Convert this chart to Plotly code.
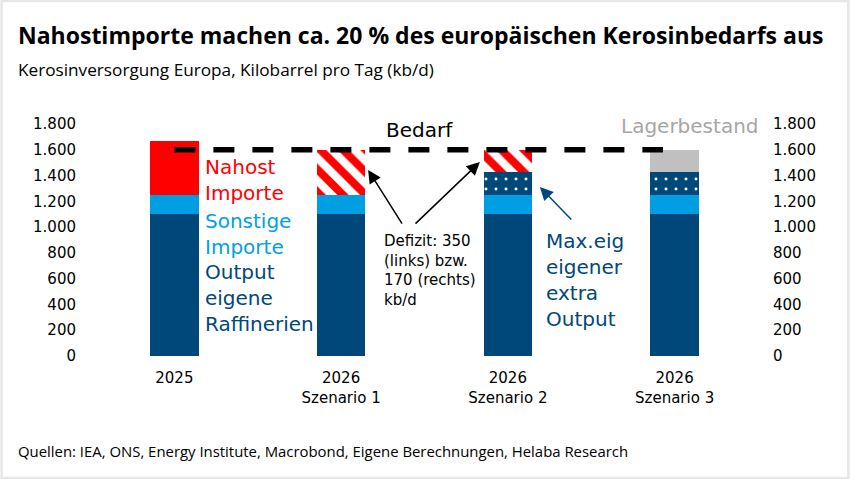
import plotly.graph_objects as go

# ---------------- data ----------------
categories = ["2025", "2026<br>Szenario 1", "2026<br>Szenario 2", "2026<br>Szenario 3"]
output_eigene = [1100, 1100, 1100, 1100]
sonstige_importe = [150, 150, 150, 150]
nahost_importe = [420, 0, 0, 0]
extra_output = [0, 0, 180, 180]
defizit = [0, 350, 170, 0]
lagerbestand = [0, 0, 0, 170]
bedarf = 1600
y_ticks = [0, 200, 400, 600, 800, 1000, 1200, 1400, 1600, 1800]

# ---------------- style ----------------
DARK = "#00477A"
LIGHT = "#009FE3"
RED = "#FF0000"
GRAY = "#C0C0C0"
GRAYTXT = "#A6A6A6"
TXTFONT = "DejaVu Sans"
HEADFONT = "Open Sans"

W, H = 850, 479
ML, MR, MT, MB = 90.5, 91.5, 124, 123
PW, PH = W - ML - MR, H - MT - MB


def px(xp):
    return (xp - ML) / PW


def py(yp):
    return (H - MB - yp) / PH


xs = list(range(len(categories)))
bw = 0.29

fig = go.Figure()


def bar(vals, color, name, pattern=None):
    kw = dict(x=xs, y=vals, name=name, width=bw,
              marker=dict(color=color, line=dict(width=0)),
              hoverinfo="skip", showlegend=False)
    if pattern:
        kw["marker"]["pattern"] = pattern
    fig.add_trace(go.Bar(**kw))


bar(output_eigene, DARK, "Output eigene Raffinerien")
bar(sonstige_importe, LIGHT, "Sonstige Importe")
bar(nahost_importe, RED, "Nahost Importe")
bar(extra_output, DARK, "Max. eigener extra Output",
    dict(shape=".", fgcolor="white", bgcolor=DARK, size=10, solidity=0.07, fgopacity=1))
bar(defizit, "white", "Defizit",
    dict(shape="\\", fgcolor=RED, bgcolor="white", size=16, solidity=0.5, fgopacity=1))
bar(lagerbestand, GRAY, "Lagerbestand")

# invisible trace for the right axis
fig.add_trace(go.Scatter(x=[xs[0]], y=[0], yaxis="y2", mode="markers",
                         marker=dict(opacity=0), showlegend=False, hoverinfo="skip"))

# Bedarf dashed line
fig.add_shape(type="line", xref="x", yref="y", x0=xs[0], x1=xs[-1] - 0.07,
              y0=bedarf, y1=bedarf, layer="above",
              line=dict(color="black", width=5.5, dash="21px,18px"))

ann = []


def label(x, y, text, color, size=20, xanchor="left"):
    ann.append(dict(x=x, y=y, xref="x", yref="y", text=text, showarrow=False,
                    xanchor=xanchor, yanchor="middle", align="left",
                    font=dict(family=TXTFONT, size=size, color=color)))


label(0.17, 1369, "Nahost<br>Importe", RED)
label(0.17, 950, "Sonstige<br>Importe", LIGHT)
label(0.17, 450, "Output<br>eigene<br>Raffinerien", DARK)
label(2.215, 586, "Max.eig<br>eigener<br>extra<br>Output", DARK)
label(1.245, 667, "Defizit: 350<br>(links) bzw.<br>170 (rechts)<br>kb/d", "black", size=15)
label(1.467, 1753, "Bedarf", "black", xanchor="center")
label(3.09, 1784, "Lagerbestand", GRAYTXT, xanchor="center")


def arrow(x, y, ax, ay, color):
    ann.append(dict(x=x, y=y, ax=ax, ay=ay, xref="x", yref="y", axref="x", ayref="y",
                    text="", showarrow=True, arrowhead=2, arrowsize=1.75,
                    arrowwidth=1.5, arrowcolor=color, standoff=0, startstandoff=0))


arrow(1.162, 1443, 1.371, 1016, "black")
arrow(1.832, 1505, 1.437, 1016, "black")
arrow(2.192, 1311, 2.389, 1047, DARK)

# title, subtitle, footer
ann.append(dict(x=px(15), y=py(35), xref="paper", yref="paper", xanchor="left", yanchor="middle",
                text="<b>Nahostimporte machen ca. 20 % des europäischen Kerosinbedarfs aus</b>",
                showarrow=False, font=dict(family=HEADFONT, size=23, color="black")))
ann.append(dict(x=px(15), y=py(69), xref="paper", yref="paper", xanchor="left", yanchor="middle",
                text="Kerosinversorgung Europa, Kilobarrel pro Tag (kb/d)",
                showarrow=False, font=dict(family=HEADFONT, size=17.2, color="black")))
ann.append(dict(x=px(15), y=py(451), xref="paper", yref="paper", xanchor="left", yanchor="middle",
                text="Quellen: IEA, ONS, Energy Institute, Macrobond, Eigene Berechnungen, Helaba Research",
                showarrow=False, font=dict(family=HEADFONT, size=14.9, color="black")))

# light frame
fig.add_shape(type="rect", xref="paper", yref="paper",
              x0=px(1), x1=px(W - 1), y0=py(H - 1), y1=py(1),
              line=dict(color="#E6E6E6", width=2.5), layer="above")

axis_font = dict(family=TXTFONT, size=15, color="black")
fig.update_layout(
    width=W, height=H,
    margin=dict(l=ML, r=MR, t=MT, b=MB, pad=0),
    paper_bgcolor="white", plot_bgcolor="white",
    barmode="stack", bargap=0,
    separators=",.",
    annotations=ann,
    xaxis=dict(range=[-0.5, 3.5], tickvals=xs, ticktext=categories, showgrid=False,
               zeroline=False, showline=False, ticks="", tickfont=axis_font,
               ticklabelstandoff=11, fixedrange=True),
    yaxis=dict(range=[0, 1800], tickvals=y_ticks, tickformat=",d", showgrid=False,
               zeroline=False, showline=False, ticks="", tickfont=axis_font,
               ticklabelstandoff=14, fixedrange=True),
    yaxis2=dict(range=[0, 1800], tickvals=y_ticks, tickformat=",d", overlaying="y",
                side="right", showgrid=False, zeroline=False, showline=False, ticks="",
                tickfont=axis_font, ticklabelstandoff=14, fixedrange=True),
)

fig.write_html("out.html", config={"displayModeBar": False, "staticPlot": True},
               post_script="document.body.style.margin='0';document.body.style.overflow='hidden';")
